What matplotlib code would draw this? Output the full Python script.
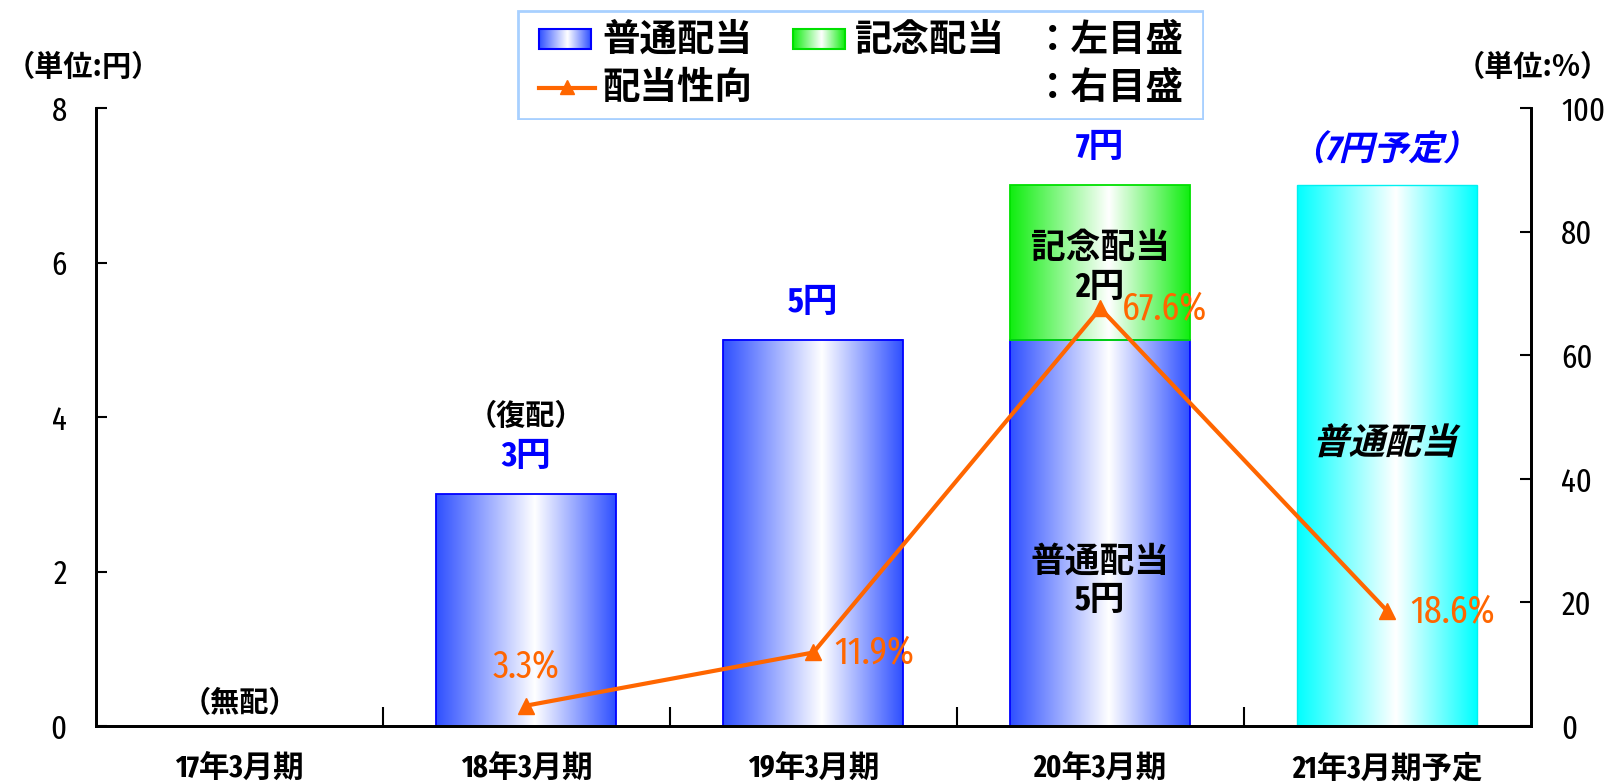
import numpy as np
import matplotlib
matplotlib.use('Agg')
import matplotlib.pyplot as plt
import matplotlib.transforms as mtransforms
from matplotlib.patches import Rectangle, PathPatch
from matplotlib.lines import Line2D
from matplotlib.colors import to_rgb
from matplotlib.textpath import TextPath
from matplotlib.font_manager import FontProperties

# ---------------- data ----------------
categories = ['17年3月期', '18年3月期', '19年3月期', '20年3月期', '21年3月期予定']
regular_div = [0, 3, 5, 5, 0]          # 普通配当 (円)
commem_div = [0, 0, 0, 2, 0]           # 記念配当 (円)
forecast_div = [0, 0, 0, 0, 7]         # 予定 (円)
payout_x = [1, 2, 3, 4]
payout = [3.3, 11.9, 67.6, 18.6]       # 配当性向 (%)
payout_labels = ['3.3%', '11.9%', '67.6%', '18.6%']
total_labels = ['', '3円', '5円', '7円', '（7円予定）']
left_ticks = [0, 2, 4, 6, 8]
right_ticks = [0, 20, 40, 60, 80, 100]

JP = 'Noto Sans CJK JP'
NUM = ['Fira Sans Extra Condensed', JP, 'DejaVu Sans']
BLUE_T = '#0000FF'
ORANGE = '#FF6600'

fig = plt.figure(figsize=(16.13, 7.84), dpi=100)
ax = fig.add_axes([0.0595, 0.074, 0.8895, 0.788])
ax2 = ax.twinx()

x = np.arange(len(categories))
W = 0.627


def grad_img(color, n=256, center=0.55):
    c = np.array(to_rgb(color))
    t = np.linspace(0, 1, n)
    w = np.where(t < center, (center - t) / center, (t - center) / (1 - center))
    w = np.clip(w, 0, 1)
    return ((1 - w)[:, None] * np.ones(3) + w[:, None] * c)[None, :, :]


def gradient_fill(axis, patch, color):
    if patch.get_height() == 0:
        patch.set_visible(False)
        return
    x0, y0 = patch.get_x(), patch.get_y()
    x1, y1 = x0 + patch.get_width(), y0 + patch.get_height()
    axis.imshow(grad_img(color), extent=[x0, x1, y0, y1], aspect='auto', zorder=1,
                interpolation='bilinear')


def slanted_text(axis, xd, yd, s, size, color, family, weight='bold', skew=14, z=4):
    fp = FontProperties(family=family, weight=weight)
    tp = TextPath((0, 0), s, size=size, prop=fp)
    bb = tp.get_extents()
    cx, cy = (bb.x0 + bb.x1) / 2, (bb.y0 + bb.y1) / 2
    tr = (mtransforms.Affine2D().translate(-cx, -cy).skew_deg(skew, 0).scale(fig.dpi / 72)
          + mtransforms.ScaledTranslation(xd, yd, axis.transData))
    pp = PathPatch(tp, transform=tr, facecolor=color, edgecolor='none', zorder=z)
    axis.add_artist(pp)


reg = ax.bar(x, regular_div, W, facecolor='none', edgecolor='#0000FF', lw=1.3, zorder=2)
com = ax.bar(x, commem_div, W, bottom=regular_div, facecolor='none', edgecolor='#00E000',
             lw=1.3, zorder=2)
fc = ax.bar(x, forecast_div, W, facecolor='none', edgecolor='#00F0F0', lw=1.0, zorder=2)
for p in reg:
    gradient_fill(ax, p, '#2F50FF')
for p in com:
    gradient_fill(ax, p, '#10EE10')
for p in fc:
    gradient_fill(ax, p, '#00FFFF')

# axes styling
for a in (ax, ax2):
    a.spines['top'].set_visible(False)
    for s in a.spines.values():
        s.set_linewidth(2)
ax.set_yticks(left_ticks)
ax.set_yticklabels([str(v) for v in left_ticks], family=NUM, fontsize=24)
ax2.set_yticks(right_ticks)
ax2.set_yticklabels([str(v) for v in right_ticks], family=NUM, fontsize=24)
ax.tick_params(axis='y', direction='in', length=8, width=1.5, pad=21)
ax2.tick_params(axis='y', direction='in', length=8, width=1.5, pad=22)

ax.set_xticks(x)
ax.set_xticklabels(categories, family=NUM, fontsize=22, fontweight='bold')
ax.tick_params(axis='x', which='major', length=0, pad=20)
ax.set_xticks(x[:-1] + 0.5, minor=True)
ax.tick_params(axis='x', which='minor', direction='in', length=14, width=1.5)

# payout line
ax2.plot(payout_x, payout, color=ORANGE, lw=3, marker='^', ms=11, zorder=5)
offsets = [(0, 28), (44, 0), (46, 0), (47, 0)]
for xi, yi, lab, off in zip(payout_x, payout, payout_labels, offsets):
    ax2.annotate(lab, (xi, yi), xytext=off, textcoords='offset points',
                 ha='center', va='center', color=ORANGE, family=NUM, fontsize=28)

# labels over bars
tot = [r + c + f for r, c, f in zip(regular_div, commem_div, forecast_div)]
for xi, t, lab in zip(x, tot, total_labels):
    if not lab:
        continue
    if '予定' in lab:
        slanted_text(ax, xi, t + 0.5, lab, 25, BLUE_T, NUM)
    else:
        ax.annotate(lab, (xi, t), xytext=(0, 27), textcoords='offset points', ha='center',
                    va='center', color=BLUE_T, family=NUM, fontsize=25, fontweight='bold')

ax.text(x[1], 4.02, '（復配）', ha='center', va='center', family=JP, fontsize=21, fontweight='bold')
ax.text(x[0], 0.3, '（無配）', ha='center', va='center', family=JP, fontsize=21, fontweight='bold')
slanted_text(ax, x[4], 3.7, '普通配当', 26, 'black', JP)
ax.text(x[3], 1.87, '普通配当\n5円', ha='center', va='center', family=NUM, fontsize=25,
        fontweight='bold', linespacing=1.2)
ax.text(x[3], 5.93, '記念配当\n2円', ha='center', va='center', family=NUM, fontsize=25,
        fontweight='bold', linespacing=1.2)

ax.set_xlim(-0.5, len(categories) - 0.5)
ax.set_ylim(0, 8)
ax2.set_ylim(0, 100)

# unit labels
fig.text(6 / 1613, 1 - 67 / 784, '（単位:円）', family=JP, fontsize=21, fontweight='bold',
         ha='left', va='center')
fig.text(1610 / 1613, 1 - 67 / 784, '（単位:%）', family=JP, fontsize=21, fontweight='bold',
         ha='right', va='center')

# legend box
FW, FH = 1613, 784
lg = fig.add_axes([517 / FW, 1 - 120 / FH, (1204 - 517) / FW, 110 / FH])
lg.axis('off')
lg.add_patch(Rectangle((518, 11), 685, 108, facecolor='white', edgecolor='#A8D0FF', lw=2,
                       zorder=0))


def leg_patch(x0, color, edge):
    lg.imshow(grad_img(color, 128), extent=[x0, x0 + 52, 49, 29], aspect='auto',
              interpolation='bilinear', zorder=2)
    lg.add_patch(Rectangle((x0, 29), 52, 20, facecolor='none', edgecolor=edge, lw=1.5, zorder=3))


leg_patch(539, '#2F50FF', '#0000FF')
leg_patch(793, '#10EE10', '#00E000')
lg.add_line(Line2D([539, 595], [88, 88], color=ORANGE, lw=3, zorder=3))
lg.plot([567], [87], marker='^', color=ORANGE, ms=10, zorder=4)
fs_leg = 27
lg.text(602, 39, '普通配当', family=JP, fontsize=fs_leg, fontweight='bold', va='center')
lg.text(855, 39, '記念配当', family=JP, fontsize=fs_leg, fontweight='bold', va='center')
lg.text(1034, 39, '：左目盛', family=JP, fontsize=fs_leg, fontweight='bold', va='center')
lg.text(602, 87, '配当性向', family=JP, fontsize=fs_leg, fontweight='bold', va='center')
lg.text(1034, 87, '：右目盛', family=JP, fontsize=fs_leg, fontweight='bold', va='center')
lg.set_xlim(517, 1204)
lg.set_ylim(120, 10)

fig.savefig('out.png', dpi=100)
